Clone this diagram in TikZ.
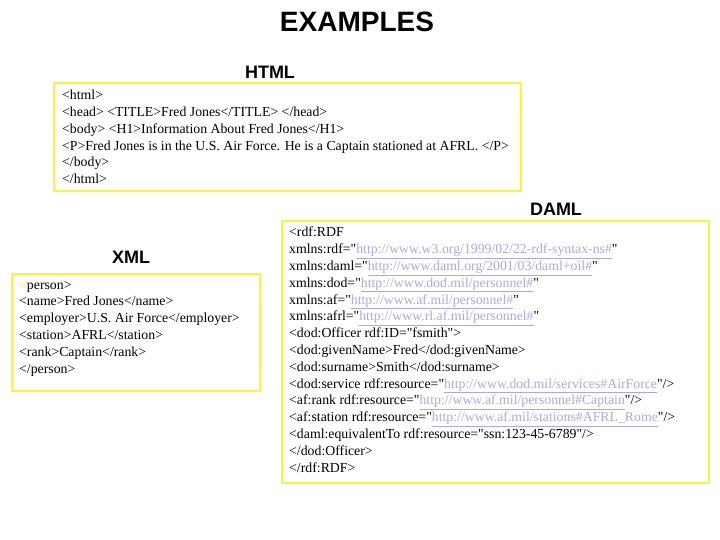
\documentclass[tikz,border=0pt]{standalone}
\usepackage{fontspec}
\setmainfont{Liberation Serif}
\newfontfamily\headfont{Liberation Sans}
\definecolor{boxyellow}{RGB}{250,245,60}
\definecolor{linkblue}{RGB}{170,170,225}
\newcommand{\lnk}[1]{\textcolor{linkblue}{\underline{#1}}}
\newcommand{\q}{\textquotedbl}
\begin{document}
\begin{tikzpicture}[
  x = 1pt,
  y = -1pt,
  codebox/.style = {draw = boxyellow, line width = 2.5pt},
  codetext/.style = {anchor = north west, align = left, inner sep = 0pt, font = \fontsize{13.8}{16.8}\selectfont},
  heading/.style = {font = \headfont\bfseries\fontsize{18}{19}\selectfont}
]
  \useasboundingbox (0, 0) rectangle (720, 540);
  \node[heading, font = \headfont\bfseries\fontsize{28}{29}\selectfont] (title) at (357, 22) {EXAMPLES};
  \node[heading] (htmlhd) at (270, 72) {HTML};
  \node[heading] (damlhd) at (556, 209) {DAML};
  \node[heading] (xmlhd) at (131, 257) {XML};

  \draw[codebox] (54, 83) rectangle (521, 191);
  \draw[codebox] (12, 274) rectangle (260, 391);
  \draw[codebox] (282, 221) rectangle (709, 483);

  \node[codetext] (htmlcode) at (62, 90) {<html>\\
<head> <TITLE>Fred Jones</TITLE> </head>\\
<body> <H1>Information About Fred Jones</H1>\\
<P>Fred Jones is in the U.S. Air Force. He is a Captain stationed at AFRL. </P>\\
</body>\\
</html>};
  \node[codetext] (xmlcode) at (19, 281) {\textcolor{boxyellow}{<}person>\\
<name>Fred Jones</name>\\
<employer>U.S. Air Force</employer>\\
<station>AFRL</station>\\
<rank>Captain</rank>\\
</person>};
  \node[codetext] (damlcode) at (289, 227) {<rdf:RDF\\
xmlns:rdf=\q\lnk{http://www.w3.org/1999/02/22-rdf-syntax-ns\#}\q\\
xmlns:daml=\q\lnk{http://www.daml.org/2001/03/daml+oil\#}\q\\
xmlns:dod=\q\lnk{http://www.dod.mil/personnel\#}\q\\
xmlns:af=\q\lnk{http://www.af.mil/personnel\#}\q\\
xmlns:afrl=\q\lnk{http://www.rl.af.mil/personnel\#}\q\\
<dod:Officer rdf:ID=\q fsmith\q>\\
<dod:givenName>Fred</dod:givenName>\\
<dod:surname>Smith</dod:surname>\\
<dod:service rdf:resource=\q\lnk{http://www.dod.mil/services\#AirForce}\q/>\\
<af:rank rdf:resource=\q\lnk{http://www.af.mil/personnel\#Captain}\q/>\\
<af:station rdf:resource=\q\lnk{http://www.af.mil/stations\#AFRL\_Rome}\q/>\\
<daml:equivalentTo rdf:resource=\q ssn:123-45-6789\q/>\\
</dod:Officer>\\
</rdf:RDF>};
\end{tikzpicture}
\end{document}
